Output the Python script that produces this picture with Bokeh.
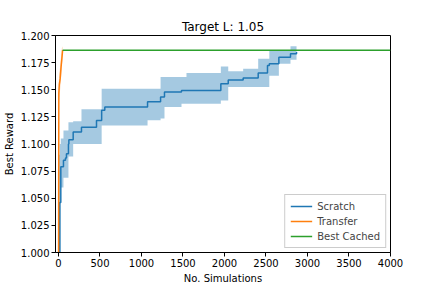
from bokeh.plotting import figure
from bokeh.models import Range1d, FixedTicker, PrintfTickFormatter, Legend, LegendItem
from bokeh.embed import file_html
from bokeh.resources import INLINE

# Scratch series (step data)
scratch_x = [0, 15, 28, 60, 84, 96, 120, 125, 177, 277, 458, 520, 558, 1073, 1230, 1277,
             1482, 1542, 1956, 2045, 2225, 2406, 2518, 2540, 2655, 2795, 2868]
scratch_mean = [0.98, 1.046, 1.079, 1.085, 1.087, 1.091, 1.100, 1.104, 1.111, 1.1155,
                1.1217, 1.131, 1.134, 1.139, 1.1433, 1.148, 1.1494, 1.1494, 1.1555, 1.159,
                1.1608, 1.1654, 1.1724, 1.174, 1.180, 1.1832, 1.1847]
scratch_lower = [0.95, 1.00, 1.060, 1.069, 1.069, 1.069, 1.0885, 1.0885, 1.100, 1.100,
                 1.100, 1.117, 1.117, 1.122, 1.1235, 1.134, 1.137, 1.137, 1.140, 1.1525,
                 1.1525, 1.1525, 1.1525, 1.163, 1.174, 1.1777, 1.1777]
scratch_upper = [1.09, 1.10, 1.105, 1.1125, 1.1125, 1.1125, 1.120, 1.120, 1.121, 1.132,
                 1.132, 1.151, 1.151, 1.151, 1.1617, 1.1617, 1.1617, 1.1654, 1.1715, 1.167,
                 1.1693, 1.1786, 1.1786, 1.1856, 1.1856, 1.190, 1.190]

# Transfer series
transfer_x = [0, 2, 4, 10, 20, 30, 40, 50]
transfer_mean = [0.96, 1.03, 1.147, 1.155, 1.160, 1.170, 1.178, 1.1865]
transfer_lower = [0.94, 1.00, 1.135, 1.143, 1.150, 1.160, 1.170, 1.183]
transfer_upper = [0.99, 1.06, 1.158, 1.165, 1.172, 1.180, 1.188, 1.190]

# Best cached
cached_x = [50, 4000]
cached_y = [1.1865, 1.1865]

x_ticks = [0, 500, 1000, 1500, 2000, 2500, 3000, 3500, 4000]
y_ticks = [1.000, 1.025, 1.050, 1.075, 1.100, 1.125, 1.150, 1.175, 1.200]

BLUE = "#1f77b4"
ORANGE = "#ff7f0e"
GREEN = "#2ca02c"
FONT = "DejaVu Sans"

p = figure(frame_width=335, frame_height=217, output_backend="svg", toolbar_location=None,
           x_range=Range1d(-36, 4000), y_range=Range1d(1.0, 1.2),
           min_border_left=46, min_border_right=35, min_border_top=35, min_border_bottom=28,
           title="Target L: 1.05")
p.title.align = "center"
p.title.text_font = FONT
p.title.text_font_size = "12px"
p.title.text_font_style = "normal"
p.title.text_color = "black"
p.title.standoff = 3

p.xgrid.visible = False
p.ygrid.visible = False
p.outline_line_color = "black"
p.outline_line_width = 1
p.background_fill_color = "white"
p.border_fill_color = "white"

p.varea_step(x=scratch_x, y1=scratch_lower, y2=scratch_upper, step_mode="after",
             fill_color=BLUE, fill_alpha=0.4)
p.varea(x=transfer_x, y1=transfer_lower, y2=transfer_upper, fill_color=ORANGE, fill_alpha=0.3)
r1 = p.step(x=scratch_x, y=scratch_mean, mode="after", line_color=BLUE, line_width=1.5)
r2 = p.line(x=transfer_x, y=transfer_mean, line_color=ORANGE, line_width=1.5)
r3 = p.line(x=cached_x, y=cached_y, line_color=GREEN, line_width=1.5)

p.xaxis.ticker = FixedTicker(ticks=x_ticks)
p.yaxis.ticker = FixedTicker(ticks=y_ticks)
p.yaxis.formatter = PrintfTickFormatter(format="%.3f")
for ax in (p.xaxis[0], p.yaxis[0]):
    ax.major_label_text_font = FONT
    ax.major_label_text_font_size = "10px"
    ax.major_label_text_color = "black"
    ax.axis_label_text_font = FONT
    ax.axis_label_text_font_size = "10px"
    ax.axis_label_text_font_style = "normal"
    ax.axis_label_text_color = "black"
    ax.minor_tick_line_color = None
    ax.major_tick_out = 4
    ax.major_tick_in = 0
    ax.axis_line_color = "black"
    ax.major_tick_line_color = "black"
p.xaxis.axis_label = "No. Simulations"
p.yaxis.axis_label = "Best Reward"
p.xaxis.axis_label_standoff = 3
p.yaxis.axis_label_standoff = 3
p.xaxis.major_label_standoff = 2
p.yaxis.major_label_standoff = 2

legend = Legend(items=[LegendItem(label="Scratch", renderers=[r1]),
                       LegendItem(label="Transfer", renderers=[r2]),
                       LegendItem(label="Best Cached", renderers=[r3])],
                location="bottom_right")
legend.label_text_font = FONT
legend.label_text_font_size = "10px"
legend.label_height = 12
legend.glyph_height = 12
legend.glyph_width = 22
legend.spacing = 3
legend.padding = 5
legend.margin = 4
legend.border_line_color = "#cccccc"
legend.border_line_alpha = 1
legend.background_fill_alpha = 0.8
p.add_layout(legend)

open("out.html", "w").write(file_html(p, INLINE))
